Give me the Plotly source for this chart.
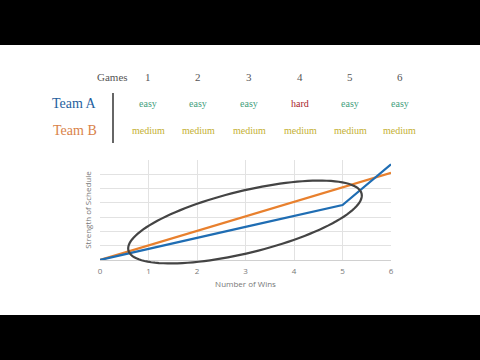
import numpy as np
import plotly.graph_objects as go

wins = [0, 1, 2, 3, 4, 5, 6]
team_a = [0, 0.8, 1.55, 2.32, 3.08, 3.85, 6.7]
team_b = [0, 1.02, 2.03, 3.05, 4.07, 5.08, 6.1]
games = ["1", "2", "3", "4", "5", "6"]
sched_a = ["easy", "easy", "easy", "hard", "easy", "easy"]
sched_b = ["medium"] * 6

W, H = 480, 360
L, R, T, B = 100, 89, 160, 100
pw, ph = W - L - R, H - T - B

def px(x):
    return (x - L) / pw

def py(y):
    return (H - B - y) / ph

fig = go.Figure()
fig.add_trace(go.Scatter(x=wins, y=team_b, mode="lines",
                         line=dict(color="#e8802e", width=2.2), showlegend=False))
fig.add_trace(go.Scatter(x=wins, y=team_a, mode="lines",
                         line=dict(color="#1f6db3", width=2.2), showlegend=False))

shapes = []
shapes.append(dict(type="rect", xref="paper", yref="paper", x0=px(0), x1=px(W),
                   y0=py(0), y1=py(45), fillcolor="black", line=dict(width=0), layer="above"))
shapes.append(dict(type="rect", xref="paper", yref="paper", x0=px(0), x1=px(W),
                   y0=py(315), y1=py(H), fillcolor="black", line=dict(width=0), layer="above"))
shapes.append(dict(type="line", xref="paper", yref="paper", x0=px(113), x1=px(113),
                   y0=py(93), y1=py(143), line=dict(color="#333", width=1.5)))
cx, cy, a, b, th = 245, 222, 120, 31, np.radians(13.7)
t = np.linspace(0, 2 * np.pi, 121)
ex = cx + a * np.cos(t) * np.cos(th) - b * np.sin(t) * np.sin(th)
ey = cy - (a * np.cos(t) * np.sin(th) + b * np.sin(t) * np.cos(th))
path = "M " + " L ".join(f"{px(x):.5f},{py(y):.5f}" for x, y in zip(ex, ey)) + " Z"
shapes.append(dict(type="path", xref="paper", yref="paper", path=path,
                   line=dict(color="#444", width=2.2), layer="above"))

ann = []
serif = "Liberation Serif"

def txt(text, x, y, size, color, xanchor="center"):
    ann.append(dict(text=text, x=px(x), y=py(y), xref="paper", yref="paper",
                    xanchor=xanchor, yanchor="middle", showarrow=False,
                    font=dict(family=serif, size=size, color=color)))

gx = [148, 198, 249, 300, 350, 400]
txt("Games", 112, 77, 11, "#555")
for g, xx, sa, sb in zip(games, gx, sched_a, sched_b):
    txt(g, xx, 77, 11, "#555")
    txt(sa, xx, 103, 10, "#a8262a" if sa == "hard" else "#3f9e7c")
    txt(sb, xx, 130, 10, "#c4b032")
txt("Team A", 99, 103, 14, "#1f5f9e", "right")
txt("Team B", 99, 130, 14, "#d9824a", "right")

fig.update_layout(
    template="none",
    width=W, height=H, margin=dict(l=L, r=R, t=T, b=B),
    paper_bgcolor="white", plot_bgcolor="white",
    shapes=shapes, annotations=ann,
    font=dict(family="Open Sans", size=8, color="#777"),
    xaxis=dict(range=[0, 6], tickvals=wins, showgrid=True, gridcolor="#e2e2e2",
               zeroline=False, showline=True, linecolor="#d0d0d0", ticks="",
               ticklabelstandoff=3,
               title=dict(text="Number of Wins", standoff=6, font=dict(size=8, color="#777")),
               tickfont=dict(size=8, color="#777"), fixedrange=True),
    yaxis=dict(range=[0, 7], dtick=1, showticklabels=False, showgrid=True, gridcolor="#e2e2e2",
               zeroline=False, showline=False, ticks="",
               title=dict(text="Strength of Schedule", standoff=6, font=dict(size=8, color="#777")),
               fixedrange=True),
)
fig.write_html("out.html", config={"displayModeBar": False},
               post_script="document.body.style.margin='0';document.body.style.overflow='hidden';")
